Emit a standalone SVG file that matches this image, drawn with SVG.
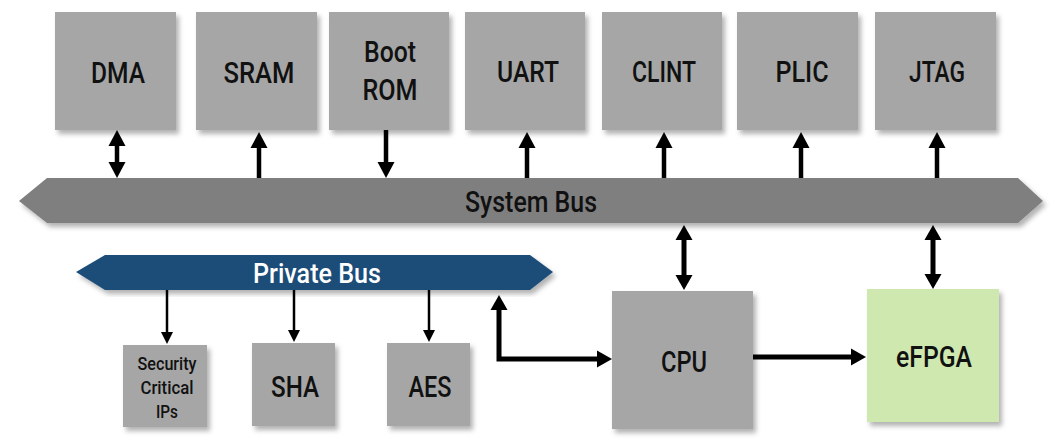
<svg xmlns="http://www.w3.org/2000/svg" width="1061" height="447" viewBox="0 0 1061 447">
<style>
  .box { fill: #a6a6a6; filter: url(#sh); }
  .green { fill: #cfe8b0; filter: url(#sh); }
  .lbl { font-family: Roboto, "Liberation Sans", sans-serif; font-weight: 500; font-size: 30px; fill: #111; text-anchor: middle; }
  .sm { font-size: 19px; }
  .pb { fill: #ffffff; font-size: 28px; }
  .big { stroke: #000; stroke-width: 4.5; fill: none; }
  .med { stroke: #000; stroke-width: 5; fill: none; stroke-linejoin: miter; }
  .thin { stroke: #000; stroke-width: 2.5; fill: none; }
</style>
<defs>
  <filter id="sh" x="-10%" y="-10%" width="125%" height="130%">
    <feDropShadow dx="3" dy="4" stdDeviation="2.5" flood-color="#000" flood-opacity="0.3"/>
  </filter>
  <marker id="ah" markerUnits="userSpaceOnUse" viewBox="0 -9 16 18" markerWidth="16" markerHeight="18" refX="0" refY="0" orient="auto-start-reverse">
    <path d="M0,-8.5 L16,0 L0,8.5 z" fill="#000"/>
  </marker>
  <marker id="am" markerUnits="userSpaceOnUse" viewBox="0 -9 15 18" markerWidth="15" markerHeight="18" refX="0" refY="0" orient="auto-start-reverse">
    <path d="M0,-8.5 L15,0 L0,8.5 z" fill="#000"/>
  </marker>
  <marker id="as" markerUnits="userSpaceOnUse" viewBox="0 -7 12 14" markerWidth="12" markerHeight="14" refX="0" refY="0" orient="auto-start-reverse">
    <path d="M0,-6 L12,0 L0,6 z" fill="#000"/>
  </marker>
</defs>

<g id="system-bus">
  <polygon points="19,201 47,178 1018,178 1043,201 1018,223 47,223" fill="#7f7f7f" filter="url(#sh)"/>
  <text class="lbl" x="531" y="212" textLength="132" lengthAdjust="spacingAndGlyphs">System Bus</text>
</g>
<g id="private-bus">
  <polygon points="76,272 105,255 530,255 553,272 530,290 105,290" fill="#1f4e79" filter="url(#sh)"/>
  <text class="lbl pb" x="317" y="283" textLength="128" lengthAdjust="spacingAndGlyphs">Private Bus</text>
</g>

<g id="dma"><rect class="box" x="55" y="12" width="121" height="118"/><text class="lbl" x="118" y="83" textLength="54" lengthAdjust="spacingAndGlyphs">DMA</text></g>
<g id="sram"><rect class="box" x="196" y="12" width="121" height="118"/><text class="lbl" x="259" y="83" textLength="71" lengthAdjust="spacingAndGlyphs">SRAM</text></g>
<g id="bootrom"><rect class="box" x="329" y="12" width="120" height="118"/><text class="lbl" x="390" y="62" textLength="52" lengthAdjust="spacingAndGlyphs">Boot</text><text class="lbl" x="390" y="100" textLength="55" lengthAdjust="spacingAndGlyphs">ROM</text></g>
<g id="uart"><rect class="box" x="465" y="12" width="120" height="118"/><text class="lbl" x="528" y="82" textLength="62" lengthAdjust="spacingAndGlyphs">UART</text></g>
<g id="clint"><rect class="box" x="602" y="12" width="120" height="118"/><text class="lbl" x="664" y="82" textLength="64" lengthAdjust="spacingAndGlyphs">CLINT</text></g>
<g id="plic"><rect class="box" x="737" y="12" width="121" height="118"/><text class="lbl" x="802" y="82" textLength="53" lengthAdjust="spacingAndGlyphs">PLIC</text></g>
<g id="jtag"><rect class="box" x="875" y="12" width="121" height="118"/><text class="lbl" x="937" y="82" textLength="56" lengthAdjust="spacingAndGlyphs">JTAG</text></g>

<g id="security-ips"><rect class="box" x="123" y="345" width="84" height="82"/>
  <text class="lbl sm" x="167" y="370" textLength="59" lengthAdjust="spacingAndGlyphs">Security</text>
  <text class="lbl sm" x="167" y="394" textLength="53" lengthAdjust="spacingAndGlyphs">Critical</text>
  <text class="lbl sm" x="167" y="418" textLength="22" lengthAdjust="spacingAndGlyphs">IPs</text>
</g>
<g id="sha"><rect class="box" x="252" y="343" width="83" height="83"/><text class="lbl" x="295" y="397" textLength="48" lengthAdjust="spacingAndGlyphs">SHA</text></g>
<g id="aes"><rect class="box" x="387" y="343" width="83" height="83"/><text class="lbl" x="430" y="397" textLength="43" lengthAdjust="spacingAndGlyphs">AES</text></g>
<g id="cpu"><rect class="box" x="612" y="291" width="141" height="138"/><text class="lbl" x="684" y="372" textLength="46" lengthAdjust="spacingAndGlyphs">CPU</text></g>
<g id="efpga"><rect class="green" x="867" y="289" width="132" height="133"/><text class="lbl" x="934" y="367" textLength="76" lengthAdjust="spacingAndGlyphs">eFPGA</text></g>

<g id="connectors">
  <line class="big" x1="117" y1="146" x2="117" y2="162" marker-start="url(#ah)" marker-end="url(#ah)"/>
  <line class="big" x1="259" y1="178" x2="259" y2="148" marker-end="url(#ah)"/>
  <line class="big" x1="386" y1="130" x2="386" y2="162" marker-end="url(#ah)"/>
  <line class="big" x1="527" y1="178" x2="527" y2="148" marker-end="url(#ah)"/>
  <line class="big" x1="664" y1="178" x2="664" y2="148" marker-end="url(#ah)"/>
  <line class="big" x1="801" y1="178" x2="801" y2="148" marker-end="url(#ah)"/>
  <line class="big" x1="937" y1="178" x2="937" y2="148" marker-end="url(#ah)"/>
  <line class="med" x1="684" y1="240" x2="684" y2="275" marker-start="url(#am)" marker-end="url(#am)"/>
  <line class="med" x1="933" y1="240" x2="933" y2="274" marker-start="url(#am)" marker-end="url(#am)"/>
  <path class="med" d="M597,359 H499 V310" marker-start="url(#am)" marker-end="url(#am)"/>
  <line class="med" x1="753" y1="357" x2="851" y2="357" marker-end="url(#am)"/>
  <line class="thin" x1="167" y1="290" x2="167" y2="332" marker-end="url(#as)"/>
  <line class="thin" x1="294" y1="290" x2="294" y2="330" marker-end="url(#as)"/>
  <line class="thin" x1="429" y1="290" x2="429" y2="330" marker-end="url(#as)"/>
</g>
</svg>
